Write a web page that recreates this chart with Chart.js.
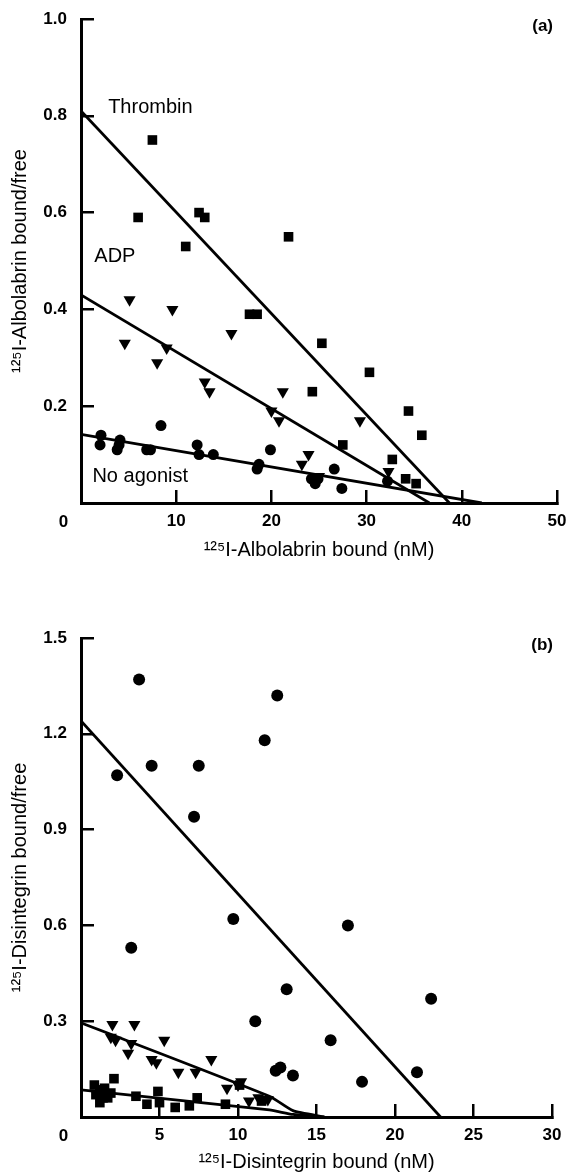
<!DOCTYPE html>
<html>
<head>
<meta charset="utf-8">
<title>Scatchard plots</title>
<script src="https://cdn.jsdelivr.net/npm/chart.js@4.4.1/dist/chart.umd.min.js"></script>
<style>
  body { margin: 0; background: #fff; width: 566px; height: 1172px; position: relative; overflow: hidden; }
  canvas { position: absolute; left: 0; }
  #chartA { top: 0; }
  #chartB { top: 580px; }
</style>
</head>
<body>
<canvas id="chartA" width="566" height="580"></canvas>
<canvas id="chartB" width="566" height="592"></canvas>
<script>
// (a) 125I-Albolabrin bound vs bound/free
const thrombinA = [[6.0, 0.59], [7.5, 0.75], [11.0, 0.53], [12.4, 0.60], [13.0, 0.59], [17.7, 0.39], [18.5, 0.39],
  [21.8, 0.55], [24.3, 0.23], [25.3, 0.33], [27.5, 0.12], [30.3, 0.27], [32.7, 0.09], [34.1, 0.05],
  [34.4, 0.19], [35.2, 0.04], [35.8, 0.14]];
const adpA = [[4.6, 0.33], [5.1, 0.42], [8.0, 0.29], [9.0, 0.32], [9.6, 0.40], [13.0, 0.25], [13.5, 0.23],
  [15.8, 0.35], [20.0, 0.19], [20.8, 0.17], [21.2, 0.23], [23.2, 0.08], [23.9, 0.10], [25.0, 0.055],
  [29.3, 0.17], [32.3, 0.065]];
const noAgonistA = [[2.0, 0.12], [2.1, 0.14], [3.8, 0.11], [4.0, 0.12], [4.1, 0.13], [6.9, 0.11], [7.3, 0.11],
  [8.4, 0.16], [12.2, 0.12], [12.4, 0.10], [13.9, 0.10], [18.5, 0.07], [18.7, 0.08], [19.9, 0.11],
  [24.2, 0.05], [24.6, 0.04], [24.9, 0.05], [26.6, 0.07], [27.4, 0.03], [32.2, 0.045]];
const thrombinFitA = [[0, 0.81], [38.7, 0]];
const adpFitA = [[0, 0.43], [36.6, 0]];
const noAgonistFitA = [[0, 0.142], [42.1, 0]];
const xTicksA = [0, 10, 20, 30, 40, 50];
const yTicksA = [0.2, 0.4, 0.6, 0.8, 1.0];

// (b) 125I-Disintegrin bound vs bound/free
const circlesB = [[2.3, 1.07], [3.2, 0.53], [3.7, 1.37], [4.5, 1.10], [7.2, 0.94], [7.5, 1.10], [9.7, 0.62],
  [11.1, 0.30], [11.7, 1.18], [12.4, 0.145], [12.5, 1.32], [12.7, 0.155], [13.1, 0.40], [13.5, 0.13],
  [15.9, 0.24], [17.0, 0.60], [17.9, 0.11], [21.4, 0.14], [22.3, 0.37]];
const trianglesB = [[1.9, 0.25], [2.0, 0.29], [2.2, 0.24], [3.0, 0.20], [3.2, 0.23], [3.4, 0.29], [4.5, 0.18],
  [4.8, 0.17], [5.3, 0.24], [6.2, 0.14], [7.3, 0.14], [8.3, 0.18], [9.3, 0.09], [10.0, 0.10],
  [10.2, 0.11], [10.7, 0.05], [11.3, 0.06], [11.9, 0.055]];
const squaresB = [[0.85, 0.10], [0.95, 0.07], [1.2, 0.085], [1.2, 0.045], [1.4, 0.06], [1.5, 0.09], [1.7, 0.06],
  [1.9, 0.075], [2.1, 0.12], [3.5, 0.065], [4.2, 0.04], [4.9, 0.08], [5.0, 0.045], [6.0, 0.03],
  [6.9, 0.035], [7.4, 0.06], [9.2, 0.04], [10.1, 0.10], [11.5, 0.05]];
const circlesFitB = [[0, 1.24], [22.9, 0]];
const trianglesFitB = [[0, 0.295], [12, 0.065], [13.5, 0.02], [15.5, 0]];
const squaresFitB = [[0, 0.085], [12, 0.022], [13.5, 0.008], [15.5, 0]];
const xTicksB = [0, 5, 10, 15, 20, 25, 30];
const yTicksB = [0.3, 0.6, 0.9, 1.2, 1.5];

Chart.defaults.font.family = '"Liberation Sans", Arial, Helvetica, sans-serif';
Chart.defaults.color = '#000';

function pts(arr) {
  return arr.map(p => ({ x: p[0], y: p[1] }));
}

function marks(arr, style, radius, rotation) {
  return {
    data: pts(arr), pointStyle: style, pointRadius: radius, pointHoverRadius: radius,
    pointRotation: rotation || 0, backgroundColor: '#000', borderColor: '#000', borderWidth: 0, showLine: false
  };
}

function fit(arr, tension) {
  return {
    data: pts(arr), showLine: true, pointRadius: 0, pointHoverRadius: 0,
    borderColor: '#000', borderWidth: 2.8, tension: tension || 0, fill: false
  };
}

// text drawn on the canvas: panel tag, series names and the shared "0" at the corner
const annotations = {
  id: 'annotations',
  afterDraw(chart, args, opts) {
    const ctx = chart.ctx;
    const xs = chart.scales.x, ys = chart.scales.y;
    const area = chart.chartArea;
    ctx.save();
    ctx.fillStyle = '#000';
    ctx.textBaseline = 'middle';
    ctx.font = 'bold 17px "Liberation Sans", Arial, sans-serif';
    ctx.textAlign = 'center';
    ctx.fillText('0', area.left - 17.5, area.bottom + 19);
    ctx.textAlign = 'right';
    ctx.fillText(opts.panel, area.right + opts.panelDx, area.top + opts.panelDy);
    ctx.font = '20px "Liberation Sans", Arial, sans-serif';
    ctx.textAlign = 'left';
    (opts.names || []).forEach(n => {
      ctx.fillText(n.text, xs.getPixelForValue(n.x), ys.getPixelForValue(n.y));
    });
    ctx.restore();
  }
};

function makeChart(id, o) {
  return new Chart(document.getElementById(id), {
    type: 'scatter',
    data: { datasets: o.datasets },
    options: {
      responsive: false,
      animation: false,
      layout: { padding: { top: o.top, right: o.right, left: 0, bottom: 0 } },
      plugins: { legend: { display: false }, tooltip: { enabled: false }, annotations: o.notes },
      scales: {
        x: {
          type: 'linear', min: 0, max: o.xMax,
          afterBuildTicks: s => { s.ticks = o.xTicks.map(v => ({ value: v })); },
          afterFit: s => { s.height = o.xHeight; s.paddingLeft = 0; s.paddingRight = 0; },
          grid: { drawOnChartArea: false, drawTicks: true, tickLength: -13, lineWidth: 2.5, color: '#000' },
          border: { display: true, color: '#000', width: 3 },
          ticks: {
            padding: 21.5, color: '#000', maxRotation: 0, autoSkip: false,
            font: { size: 17, weight: 'bold' },
            callback: v => (v === 0 ? '' : String(v))
          },
          title: {
            display: true, text: o.xTitle, color: '#000',
            font: { size: 20, lineHeight: 1 }, padding: { top: 0, bottom: o.xTitlePad }
          }
        },
        y: {
          type: 'linear', min: 0, max: o.yMax,
          afterBuildTicks: s => { s.ticks = o.yTicks.map(v => ({ value: v })); },
          afterFit: s => { s.width = 81; s.paddingTop = 0; s.paddingBottom = 0; },
          grid: { drawOnChartArea: false, drawTicks: true, tickLength: -13, lineWidth: 2.5, color: '#000' },
          border: { display: true, color: '#000', width: 3 },
          ticks: {
            padding: 27, color: '#000', autoSkip: false,
            font: { size: 17, weight: 'bold' },
            callback: v => v.toFixed(1)
          },
          title: {
            display: true, text: o.yTitle, color: '#000',
            font: { size: 20, lineHeight: 1 }, padding: { top: 10, bottom: 0 }
          }
        }
      }
    },
    plugins: [annotations]
  });
}

makeChart('chartA', {
  datasets: [
    marks(thrombinA, 'rect', 6.8, 0),
    marks(adpA, 'triangle', 7, 180),
    marks(noAgonistA, 'circle', 5.5, 0),
    fit(thrombinFitA), fit(adpFitA), fit(noAgonistFitA)
  ],
  xMax: 50, yMax: 1.0, xTicks: xTicksA, yTicks: yTicksA,
  top: 19, right: 9, xHeight: 77, xTitlePad: 20,
  xTitle: '¹²⁵I-Albolabrin bound (nM)',
  yTitle: '¹²⁵I-Albolabrin bound/free',
  notes: {
    panel: '(a)', panelDx: -4, panelDy: 7,
    names: [
      { text: 'Thrombin', x: 2.85, y: 0.817 },
      { text: 'ADP', x: 1.4, y: 0.509 },
      { text: 'No agonist', x: 1.2, y: 0.054 }
    ]
  }
});

makeChart('chartB', {
  datasets: [
    marks(circlesB, 'circle', 6, 0),
    marks(trianglesB, 'triangle', 7, 180),
    marks(squaresB, 'rect', 6.8, 0),
    fit(circlesFitB), fit(trianglesFitB, 0.2), fit(squaresFitB, 0.2)
  ],
  xMax: 30, yMax: 1.5, xTicks: xTicksB, yTicks: yTicksB,
  top: 58, right: 14, xHeight: 55, xTitlePad: 0,
  xTitle: '¹²⁵I-Disintegrin bound (nM)',
  yTitle: '¹²⁵I-Disintegrin bound/free',
  notes: { panel: '(b)', panelDx: 1, panelDy: 7, names: [] }
});
</script>
</body>
</html>
